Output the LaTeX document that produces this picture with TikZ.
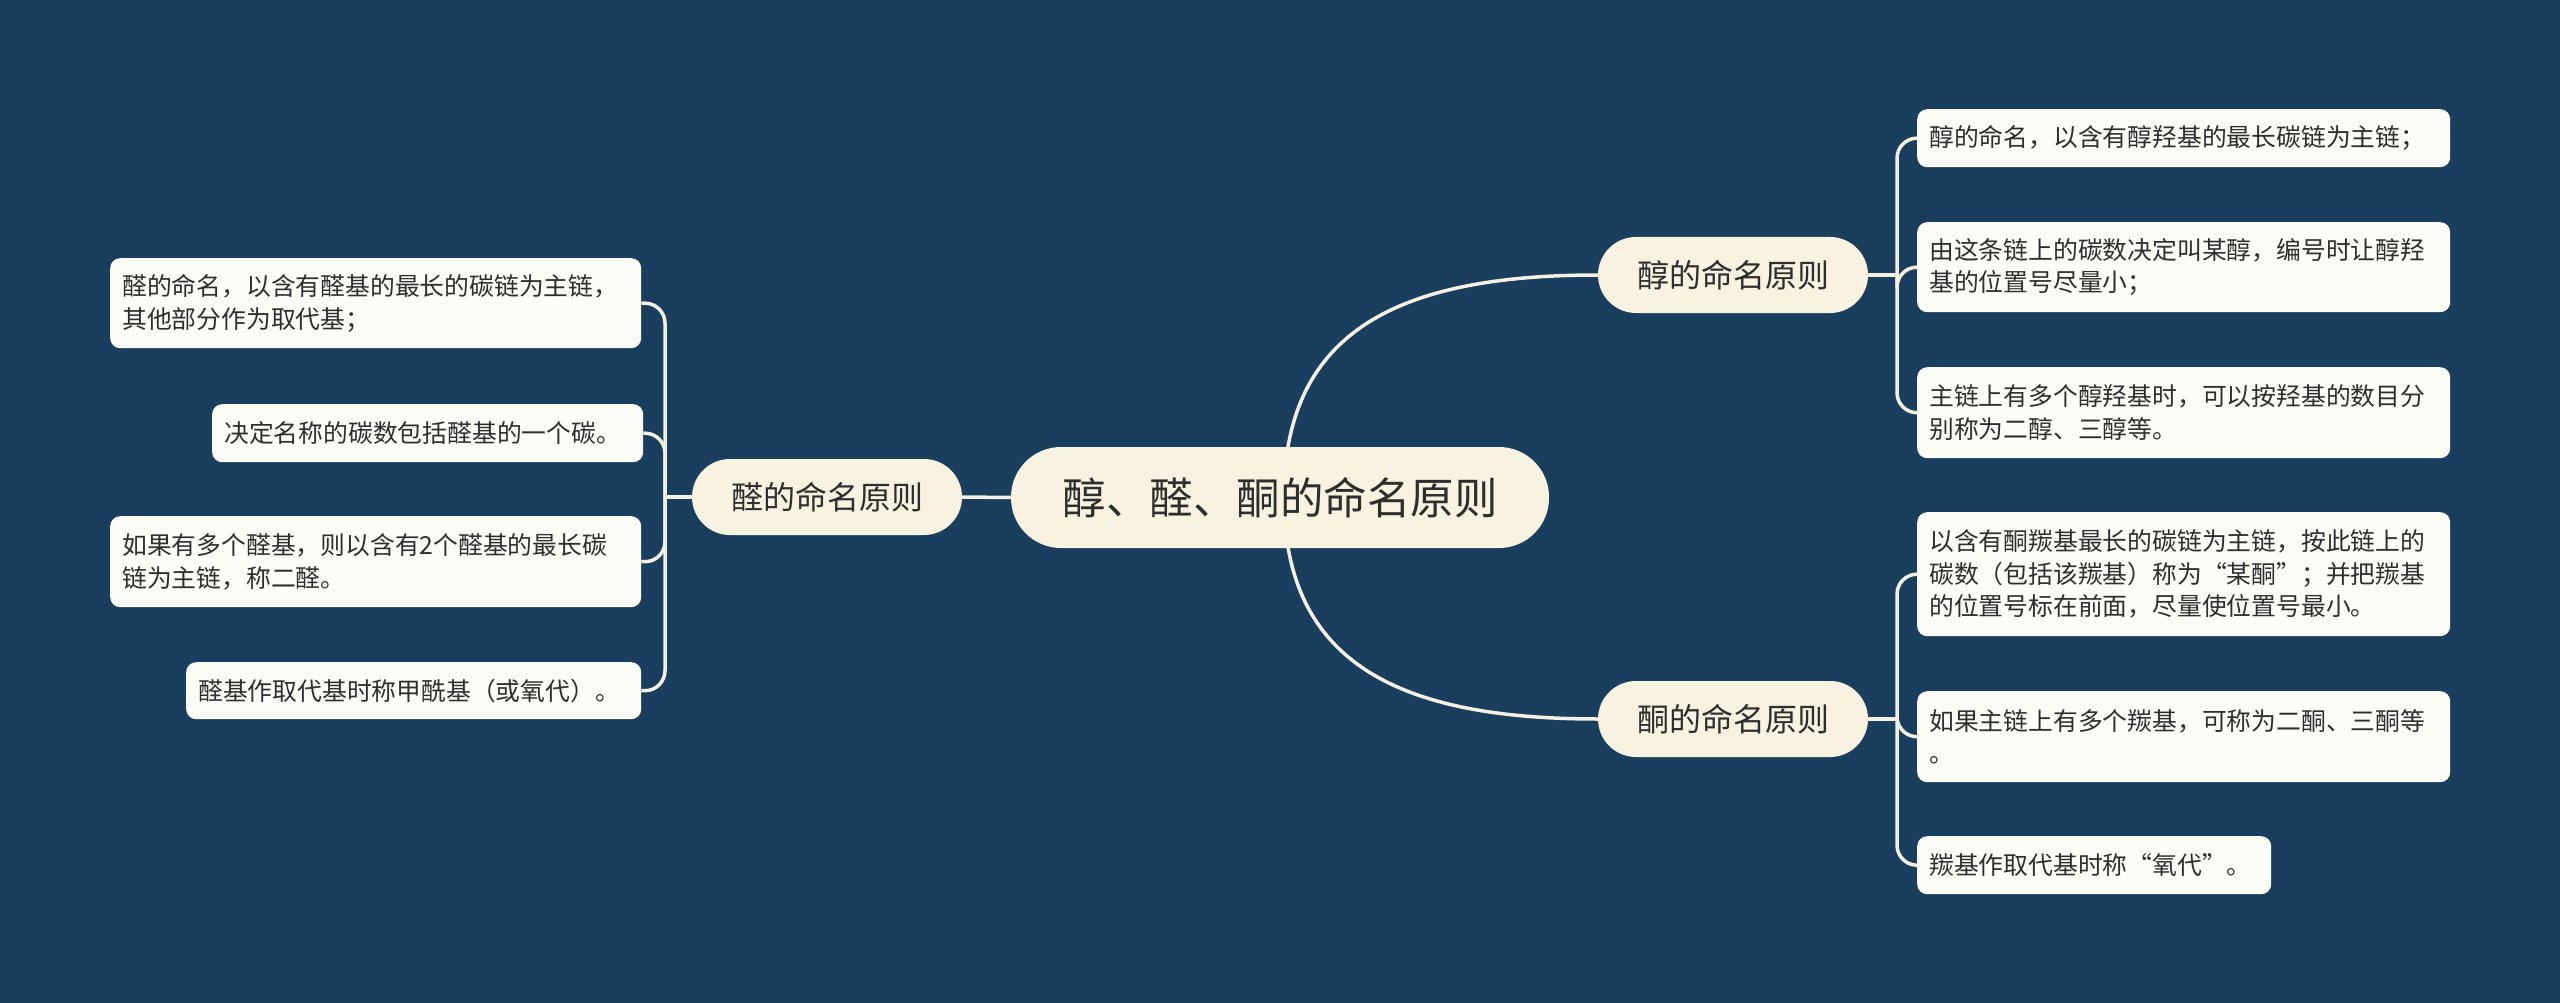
\documentclass[tikz,border=0pt]{standalone}
\usepackage{fontspec}
\setmainfont{Noto Sans CJK SC}
\definecolor{bgblue}{HTML}{1A3E5E}
\definecolor{cream}{HTML}{F8F3E1}
\definecolor{leafwhite}{HTML}{FDFDF8}
\definecolor{linecol}{HTML}{F4F0E2}
\definecolor{txt}{HTML}{2E2E2E}
\begin{document}
\begin{tikzpicture}[x=1pt,y=-1pt,
  leaf/.style={draw=none, fill=leafwhite, rounded corners=10pt, anchor=north west,
    inner xsep=12pt, inner ysep=0pt, align=left, text=txt,
    font=\fontsize{24.8}{32.5}\selectfont},
  branch/.style={fill=cream, rounded corners=38pt, minimum width=270pt, minimum height=76pt,
    inner sep=0pt, text=txt, font=\fontsize{32}{36}\selectfont},
  root/.style={fill=cream, rounded corners=50pt, minimum width=538pt, minimum height=101pt,
    inner sep=0pt, text=txt, font=\fontsize{43.5}{48}\selectfont},
  conn/.style={draw=linecol, line width=3.5pt},
  elbow/.style={conn, rounded corners=20pt}]
\useasboundingbox (0,0) rectangle (2560,1003);
\fill[bgblue] (0,0) rectangle (2560,1003);

% coordinates for spines
\coordinate (spL) at (665,497);
\coordinate (spR1) at (1897,275);
\coordinate (spR2) at (1897,719);
\coordinate (rootc) at (1284,497);

% curves from root to right branches (drawn first, behind nodes)
\draw[conn] (rootc) .. controls (1284,330) and (1400,275) .. (1598,275);
\draw[conn] (rootc) .. controls (1284,664) and (1400,719) .. (1598,719);

% main nodes
\node[root] (root) at (1280,497.5) {醇、醛、酮的命名原则};
\node[branch] (ald) at (827,497) {醛的命名原则};
\node[branch] (alc) at (1733,275) {醇的命名原则};
\node[branch] (ket) at (1733,719) {酮的命名原则};

% left leaves
\node[leaf, text width=507pt, minimum height=90pt] (L1) at (110,258)
  {醛的命名，以含有醛基的最长的碳链为主链，\\其他部分作为取代基；};
\node[leaf, text width=407pt, minimum height=58pt] (L2) at (212,404)
  {决定名称的碳数包括醛基的一个碳。};
\node[leaf, text width=507pt, minimum height=91pt] (L3) at (110,516)
  {如果有多个醛基，则以含有2个醛基的最长碳\\链为主链，称二醛。};
\node[leaf, text width=431pt, minimum height=57pt] (L4) at (186,662)
  {醛基作取代基时称甲酰基（或氧代）。};

% right leaves
\node[leaf, text width=509pt, minimum height=58pt] (R1) at (1917,109)
  {醇的命名，以含有醇羟基的最长碳链为主链；};
\node[leaf, text width=509pt, minimum height=90pt] (R2) at (1917,222)
  {由这条链上的碳数决定叫某醇，编号时让醇羟\\基的位置号尽量小；};
\node[leaf, text width=509pt, minimum height=91pt] (R3) at (1917,367)
  {主链上有多个醇羟基时，可以按羟基的数目分\\别称为二醇、三醇等。};
\node[leaf, text width=509pt, minimum height=124pt] (R4) at (1917,512)
  {以含有酮羰基最长的碳链为主链，按此链上的\\碳数（包括该羰基）称为“某酮”；并把羰基\\的位置号标在前面，尽量使位置号最小。};
\node[leaf, text width=509pt, minimum height=91pt] (R5) at (1917,691)
  {如果主链上有多个羰基，可称为二酮、三酮等\\。};
\node[leaf, text width=330pt, minimum height=58pt] (R6) at (1917,836)
  {羰基作取代基时称“氧代”。};

% connectors
\draw[conn] (root.west) -- (ald.east);
\draw[conn] (ald.west) -- (spL);
\foreach \n in {L1,L2,L3,L4} \draw[elbow] (spL) |- (\n.east);
\draw[conn] (alc.east) -- (spR1);
\foreach \n in {R1,R2,R3} \draw[elbow] (spR1) |- (\n.west);
\draw[conn] (ket.east) -- (spR2);
\foreach \n in {R4,R5,R6} \draw[elbow] (spR2) |- (\n.west);
\end{tikzpicture}
\end{document}
